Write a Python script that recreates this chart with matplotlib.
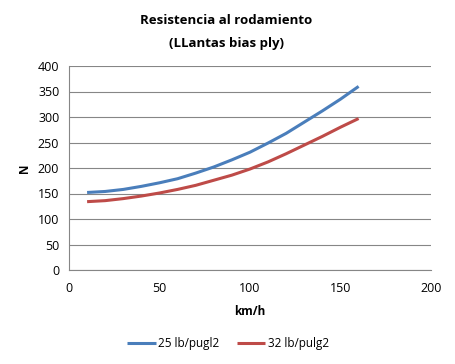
import matplotlib
matplotlib.use("Agg")
import matplotlib.pyplot as plt

speed = [10, 20, 30, 40, 50, 60, 70, 80, 90, 100, 110, 120, 130, 140, 150, 160]
p25 = [152, 154, 158, 164, 171, 179, 190, 202, 216, 231, 249, 268, 290, 312, 335, 360]
p32 = [134, 136, 140, 145, 151, 158, 166, 176, 186, 198, 212, 228, 245, 262, 280, 297]
series_names = ["25 lb/pugl2", "32 lb/pulg2"]
xticks = [0, 50, 100, 150, 200]
yticks = [0, 50, 100, 150, 200, 250, 300, 350, 400]

plt.rcParams['font.family'] = ['Open Sans', 'DejaVu Sans']

fig = plt.figure(figsize=(4.56, 3.64), dpi=100)
ax = fig.add_axes([69/456, 1-270/364, (431-69)/456, (270-66)/364])

ax.plot(speed, p25, color="#4A7EBB", lw=2.2, label=series_names[0], solid_capstyle='butt')
ax.plot(speed, p32, color="#BE4B48", lw=2.2, label=series_names[1], solid_capstyle='butt')

ax.set_xlim(0, 200)
ax.set_ylim(0, 400)
ax.set_xticks(xticks)
ax.set_yticks(yticks)
ax.tick_params(length=0, labelsize=9)
ax.tick_params(axis='x', pad=9)
ax.tick_params(axis='y', pad=7)
ax.grid(axis='y', color="#868686", lw=0.8)
ax.set_axisbelow(True)
for s in ['top', 'right']:
    ax.spines[s].set_visible(False)
for s in ['left', 'bottom']:
    ax.spines[s].set_color("#868686")
    ax.spines[s].set_linewidth(0.8)

ax.set_xlabel("km/h", fontsize=8.5, fontweight='bold', labelpad=7)
ax.set_ylabel("N", fontsize=8.5, fontweight='bold', labelpad=5)
fig.text(0.496, 1-20/364, "Resistencia al rodamiento", ha='center', va='center', fontsize=9.5, fontweight='bold')
fig.text(0.496, 1-43/364, "(LLantas bias ply)", ha='center', va='center', fontsize=9.5, fontweight='bold')

fig.legend(loc='center', bbox_to_anchor=(0.5, 1-344/364), ncol=2, frameon=False,
           fontsize=8.5, handlelength=2.4, handletextpad=0.2, columnspacing=1.5)

fig.savefig("out.png", dpi=100)
